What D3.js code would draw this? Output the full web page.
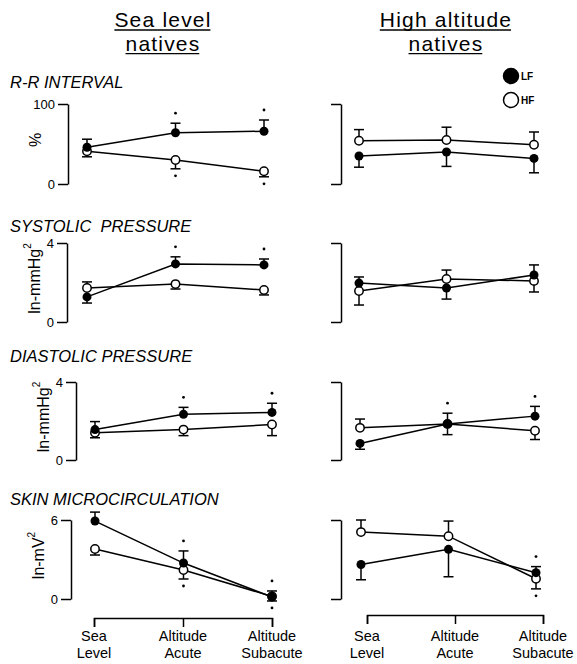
<!DOCTYPE html>
<html>
<head>
<meta charset="utf-8">
<script src="https://cdn.jsdelivr.net/npm/d3@7"></script>
<style>
  body { margin: 0; background: #fff; }
  svg { font-family: "Liberation Sans", Arial, sans-serif; }
  .axis path, .axis line { stroke: #000; stroke-width: 1.5; }
  .axis text { font-size: 13px; fill: #000; }
</style>
</head>
<body>
<svg id="fig" width="577" height="664"></svg>
<script>
// x categories and labels
const groups = ['Sea Level', 'Altitude Acute', 'Altitude Subacute'];
const groupLabels = [['Sea', 'Level'], ['Altitude', 'Acute'], ['Altitude', 'Subacute']];
const columnTitles = [['Sea level', 'natives'], ['High altitude', 'natives']];

const panelTitles = ['R-R INTERVAL', 'SYSTOLIC  PRESSURE', 'DIASTOLIC PRESSURE', 'SKIN MICROCIRCULATION'];
const yUnits = ['%', 'ln-mmHg', 'ln-mmHg', 'ln-mV'];
const yUnitSup = ['', '2', '2', '2'];
const yMax = [100, 4, 4, 6];

// values: [sea level natives, high altitude natives]; err = end of the error bar
const lfMean = [
  [[46, 64, 66], [35, 40, 32]],
  [[1.27, 2.94, 2.89], [1.97, 1.72, 2.38]],
  [[1.56, 2.34, 2.44], [0.85, 1.85, 2.25]],
  [[5.92, 2.73, 0.15], [2.62, 3.77, 2.0]]
];
const lfErr = [
  [[56, 76, 80], [21, 22, 14]],
  [[0.96, 3.3, 3.19], [2.28, 1.16, 2.89]],
  [[1.97, 2.70, 2.91], [0.55, 2.4, 2.75]],
  [[6.6, 3.65, 0.61], [1.46, 1.69, 2.46]]
];
const hfMean = [
  [[41, 30, 16], [54, 55, 49]],
  [[1.72, 1.92, 1.62], [1.57, 2.18, 2.08]],
  [[1.40, 1.56, 1.82], [1.65, 1.85, 1.5]],
  [[3.80, 2.2, 0.2], [5.08, 4.77, 1.54]]
];
const hfErr = [
  [[34, 19, 9], [68, 71, 65]],
  [[2.03, 1.67, 1.37], [0.86, 2.63, 1.52]],
  [[1.14, 1.25, 1.25], [2.1, 1.3, 1.05]],
  [[3.34, 1.52, -0.15], [6.0, 5.92, 0.77]]
];
// significance marks
const lfSig = [
  [[0, 1, 1], [0, 0, 0]],
  [[0, 1, 1], [0, 0, 0]],
  [[0, 1, 1], [0, 1, 1]],
  [[0, 1, 1], [0, 0, 1]]
];
const hfSig = [
  [[0, 1, 1], [0, 0, 0]],
  [[0, 0, 0], [0, 0, 0]],
  [[0, 0, 0], [0, 0, 0]],
  [[0, 1, 1], [0, 0, 1]]
];

const svg = d3.select('#fig');

// layout of each row (scanned figure is slightly uneven)
const rows = [
  { top: 104, bottom: 184, axisL: 68, x0L: 87, x0R: 359, titleY: 88 },
  { top: 243, bottom: 322, axisL: 67, x0L: 87, x0R: 359, titleY: 232 },
  { top: 382, bottom: 460, axisL: 76, x0L: 95, x0R: 360, titleY: 362 },
  { top: 520, bottom: 599, axisL: 71, x0L: 95, x0R: 361, titleY: 505 }
];
const axisR = 341;
const spanL = 177, spanR = 175;

// column titles with underline
const titleCenters = [163, 446];
columnTitles.forEach((lines, c) => {
  lines.forEach((t, i) => {
    const yy = 27 + i * 23.6;
    const txt = svg.append('text')
      .attr('x', titleCenters[c])
      .attr('y', yy)
      .attr('text-anchor', 'middle')
      .attr('font-size', 21)
      .attr('letter-spacing', 1.2)
      .text(t);
    const bb = txt.node().getBBox();
    svg.append('line')
      .attr('x1', bb.x)
      .attr('x2', bb.x + bb.width - 1.2)
      .attr('y1', yy + 3)
      .attr('y2', yy + 3)
      .attr('stroke', '#000')
      .attr('stroke-width', 1.3);
  });
});

// legend
const legend = svg.append('g').attr('transform', 'translate(511, 76)');
[['LF', '#000'], ['HF', '#fff']].forEach((d, i) => {
  legend.append('circle')
    .attr('cx', 0).attr('cy', i * 24).attr('r', 7.5)
    .attr('fill', d[1]).attr('stroke', '#000').attr('stroke-width', 1.5);
  legend.append('text')
    .attr('x', 10).attr('y', i * 24 + 4)
    .attr('font-size', 10).attr('font-weight', 'bold')
    .text(d[0]);
});

function drawSeries(g, x, y, means, errs, sig) {
  const pts = groups.map((k, i) => ({ k, v: means[i], e: errs[i], s: sig[i] }));
  // error bars
  pts.forEach(p => {
    const cx = x(p.k);
    g.append('line')
      .attr('x1', cx).attr('x2', cx)
      .attr('y1', y(p.v)).attr('y2', y(p.e))
      .attr('stroke', '#000').attr('stroke-width', 1.5);
    g.append('line')
      .attr('x1', cx - 5).attr('x2', cx + 5)
      .attr('y1', y(p.e)).attr('y2', y(p.e))
      .attr('stroke', '#000').attr('stroke-width', 1.5);
    if (p.s) {
      const up = p.e > p.v;
      g.append('circle')
        .attr('cx', cx)
        .attr('cy', y(p.e) + (up ? -10 : 7))
        .attr('r', 1.4)
        .attr('fill', '#000');
    }
  });
  g.append('path')
    .datum(pts)
    .attr('fill', 'none')
    .attr('stroke', '#000')
    .attr('stroke-width', 1.5)
    .attr('d', d3.line().x(p => x(p.k)).y(p => y(p.v)));
  return pts;
}

rows.forEach((r, ri) => {
  const y = d3.scaleLinear().domain([0, yMax[ri]]).range([r.bottom, r.top]);

  // panel title
  svg.append('text')
    .attr('x', 10)
    .attr('y', r.titleY)
    .attr('font-size', 16.5)
    .attr('font-style', 'italic')
    .style('white-space', 'pre')
    .text(panelTitles[ri]);

  // left y axis bracket
  svg.append('g')
    .attr('class', 'axis')
    .attr('transform', `translate(${r.axisL},0)`)
    .call(d3.axisLeft(y).tickValues([0, yMax[ri]]).tickSize(10).tickSizeOuter(0)
      .tickPadding(3).tickFormat(d3.format('d')));

  // right y axis bracket (no labels)
  svg.append('g')
    .attr('class', 'axis')
    .attr('transform', `translate(${axisR},0)`)
    .call(d3.axisLeft(y).tickValues([0, yMax[ri]]).tickSize(10).tickSizeOuter(0).tickFormat(''));

  // y unit label
  const ul = svg.append('text')
    .attr('transform', `translate(${r.axisL - 33},${(r.top + r.bottom) / 2 - 4}) rotate(-90)`)
    .attr('text-anchor', 'middle')
    .attr('dominant-baseline', 'central')
    .attr('font-size', 16)
    .text(yUnits[ri]);
  if (yUnitSup[ri]) {
    ul.append('tspan').attr('dy', -7).attr('font-size', 10).text(yUnitSup[ri]);
  }

  [[r.x0L, spanL], [r.x0R, spanR]].forEach(([x0, span], c) => {
    const x = d3.scalePoint().domain(groups).range([x0, x0 + span]);
    const g = svg.append('g');
    const hf = drawSeries(g, x, y, hfMean[ri][c], hfErr[ri][c], hfSig[ri][c]);
    const lf = drawSeries(g, x, y, lfMean[ri][c], lfErr[ri][c], lfSig[ri][c]);
    g.selectAll('.hf').data(hf).join('circle')
      .attr('cx', p => x(p.k)).attr('cy', p => y(p.v)).attr('r', 4.2)
      .attr('fill', '#fff').attr('stroke', '#000').attr('stroke-width', 1.5);
    g.selectAll('.lf').data(lf).join('circle')
      .attr('cx', p => x(p.k)).attr('cy', p => y(p.v)).attr('r', 4.5)
      .attr('fill', '#000');
  });
});

// x axis brackets with two-line labels
[[94, 272, 618], [367, 543, 615]].forEach(([a, b, yy]) => {
  const x = d3.scalePoint().domain(groups).range([a, b]);
  svg.append('g')
    .attr('class', 'axis')
    .attr('transform', `translate(0,${yy})`)
    .call(d3.axisBottom(x).tickSize(9).tickSizeOuter(9).tickFormat(''));
  groups.forEach((k, i) => {
    groupLabels[i].forEach((s, j) => {
      svg.append('text')
        .attr('x', x(k))
        .attr('y', 641 + j * 16.5)
        .attr('text-anchor', 'middle')
        .attr('font-size', 14.5)
        .text(s);
    });
  });
});
</script>
</body>
</html>
